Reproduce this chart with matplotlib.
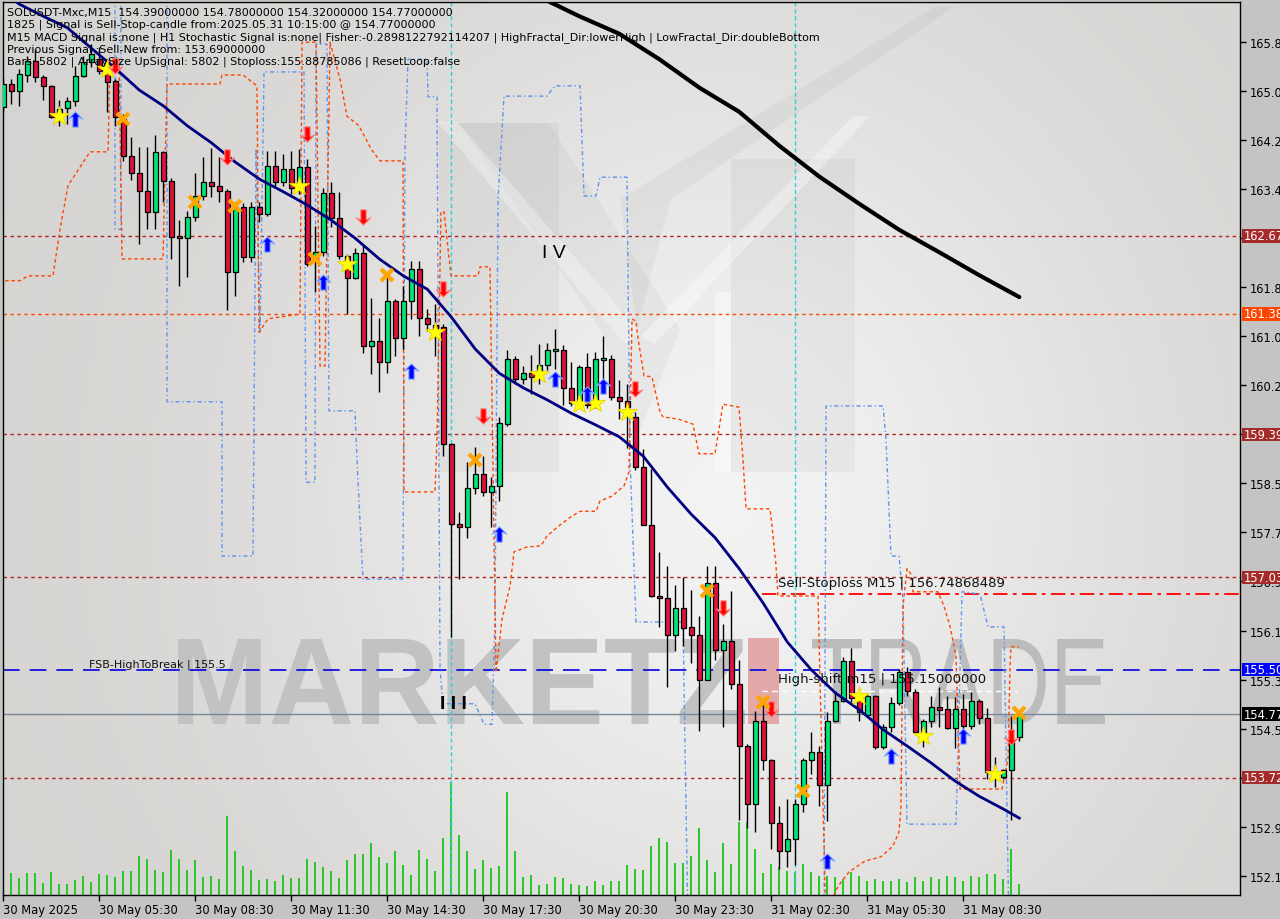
import numpy as np
import matplotlib
matplotlib.use("Agg")
import matplotlib.pyplot as plt
from matplotlib.path import Path
from matplotlib.patches import Rectangle, Polygon, PathPatch
from matplotlib.textpath import TextPath
from matplotlib.transforms import Affine2D, blended_transform_factory
from matplotlib.font_manager import FontProperties

plt.rcParams['font.family'] = ['DejaVu Sans']

# ---------------- data ----------------
opens = [164.80,165.18,165.06,165.33,165.56,165.30,165.15,164.64,164.78,164.90,
         165.31,165.54,165.59,165.48,165.23,164.60,163.99,163.71,163.41,163.06,
         164.06,163.58,162.65,162.63,162.98,163.33,163.56,163.49,163.41,162.07,
         163.15,162.32,163.15,163.03,163.83,163.56,163.78,163.45,163.81,162.32,
         162.40,163.38,162.97,162.34,161.97,162.39,160.85,160.93,160.59,161.60,
         160.98,161.60,162.12,161.31,161.20,161.17,159.23,157.91,157.86,158.50,
         158.73,158.44,158.54,159.56,160.64,160.31,160.40,160.40,160.54,160.77,
         160.79,160.16,159.91,160.50,159.88,160.62,160.64,160.01,159.94,159.68,
         158.85,157.89,156.72,156.69,156.08,156.52,156.21,156.08,155.33,156.94,
         155.83,155.98,155.27,154.24,153.28,154.65,154.01,152.97,152.51,152.70,
         153.28,154.01,154.14,153.60,154.65,154.99,155.65,155.04,154.75,155.07,
         154.23,154.55,154.95,155.46,155.13,154.47,154.65,154.88,154.85,154.54,
         154.85,154.57,154.99,154.70,153.81,153.73,153.85,154.39]
highs = [165.30,165.26,165.43,165.64,165.76,165.33,165.16,164.92,164.97,165.48,
         165.64,165.84,165.79,165.56,165.26,164.68,164.30,164.14,164.14,164.34,
         164.07,163.63,162.93,163.08,163.71,163.97,164.12,163.97,163.45,163.23,
         163.21,163.23,163.23,164.07,164.07,164.02,164.07,164.11,163.94,162.83,
         163.46,163.56,163.40,162.37,162.47,162.50,161.64,161.31,161.99,161.63,
         161.84,162.26,162.26,161.46,161.54,161.21,159.25,158.11,158.94,159.18,
         159.03,158.69,159.68,160.79,160.69,160.52,160.70,160.88,160.90,161.13,
         160.87,160.59,160.54,160.74,160.75,161.02,160.70,160.29,160.22,159.76,
         159.15,158.82,157.45,157.22,156.90,157.03,156.82,156.39,157.22,157.22,
         156.26,156.80,155.66,154.28,154.82,154.99,154.03,153.25,153.37,153.37,
         154.04,154.47,154.24,154.80,155.15,155.71,155.86,155.19,155.10,155.09,
         154.60,155.05,155.51,155.55,155.18,154.69,155.07,155.22,155.07,155.05,
         155.10,155.13,155.02,154.87,154.06,153.86,154.74,154.78]
lows = [164.72,164.85,164.82,165.21,165.21,164.92,164.62,164.49,164.52,164.82,
        165.30,165.46,165.35,164.72,164.49,163.91,163.59,162.54,162.78,162.78,
        163.23,162.29,161.84,161.99,162.92,163.26,163.31,163.23,161.45,161.68,
        162.24,162.24,162.90,163.00,163.49,163.49,163.36,163.36,162.17,161.74,
        162.34,162.82,162.29,161.38,161.96,160.74,160.39,160.09,160.40,160.69,
        160.80,161.30,161.01,161.10,160.69,159.03,156.04,157.00,157.68,158.41,
        158.37,157.86,158.29,159.53,160.22,160.22,160.06,160.22,160.45,160.47,
        159.88,159.86,159.88,159.83,159.83,160.17,159.96,159.64,159.17,158.80,
        157.89,156.70,156.21,155.22,155.81,155.89,155.61,154.49,155.33,155.66,
        154.56,155.18,153.02,152.89,152.82,153.84,152.54,152.21,152.24,152.27,
        153.15,153.78,153.25,153.00,154.64,154.97,154.97,154.65,154.74,154.19,
        154.19,154.47,154.92,155.07,154.44,154.23,154.56,154.56,154.52,154.21,
        154.52,154.52,154.60,153.70,153.56,153.70,153.02,154.32]
closes = [165.18,165.06,165.35,165.56,165.30,165.15,164.64,164.77,164.90,165.31,
          165.54,165.68,165.40,165.21,164.64,163.99,163.71,163.41,163.06,164.06,
          163.58,162.65,162.64,162.98,163.33,163.56,163.49,163.41,162.07,163.13,
          162.32,163.15,163.03,163.83,163.56,163.78,163.46,163.81,162.21,162.40,
          163.38,162.97,162.34,161.97,162.39,160.85,160.93,160.59,161.60,160.98,
          161.60,162.12,161.31,161.21,161.13,159.23,157.91,157.86,158.50,158.73,
          158.44,158.54,159.58,160.64,160.31,160.40,160.34,160.54,160.79,160.80,
          160.16,159.91,160.50,159.88,160.64,160.65,160.01,159.94,159.84,158.85,
          157.89,156.72,156.69,156.08,156.52,156.19,156.08,155.33,156.94,155.83,
          155.98,155.27,154.24,153.28,154.65,154.01,152.97,152.51,152.70,153.28,
          154.01,154.14,153.60,154.65,154.99,155.65,155.04,154.80,155.07,154.23,
          154.55,154.95,155.46,155.15,154.47,154.65,154.88,154.84,154.54,154.85,
          154.57,154.99,154.70,153.81,153.76,153.85,154.31,154.77]
volumes = [330,220,170,220,220,120,230,110,110,150,190,130,210,200,180,240,240,390,360,250,
           230,450,360,250,350,180,190,160,790,440,290,250,150,160,140,200,170,170,360,330,
           280,240,170,350,410,410,520,380,320,440,300,200,450,360,240,570,1130,600,440,260,
           350,270,290,1030,440,180,200,100,110,180,170,110,100,90,140,100,140,140,300,260,
           250,490,570,530,320,320,390,670,350,230,520,310,730,730,460,220,310,280,240,230,
           310,230,190,190,180,160,230,190,140,160,140,140,160,130,180,140,180,160,190,180,
           140,190,180,210,210,160,460,110]

ma_bars = [1, 2, 5, 8, 12, 14, 17, 20, 23, 26, 29, 32, 35, 38, 41, 44, 47, 50, 53, 56,
           59, 62, 65, 68, 71, 74, 77, 80, 83, 86, 89, 92, 95, 98, 101, 104, 107, 110,
           113, 116, 119, 122, 125, 127]
ma_vals = [166.60, 166.50, 166.30, 166.11, 165.66, 165.44, 165.08, 164.82, 164.49, 164.21,
           163.89, 163.61, 163.40, 163.18, 162.93, 162.63, 162.29, 162.01, 161.79, 161.33,
           160.80, 160.40, 160.16, 159.96, 159.74, 159.55, 159.35, 159.03, 158.52, 158.07,
           157.68, 157.17, 156.60, 155.96, 155.50, 155.12, 154.84, 154.51, 154.24, 153.96,
           153.66, 153.41, 153.20, 153.05]
slow_bars = [67, 72, 77, 82, 87, 92, 97, 102, 107, 112, 117, 122, 127]
slow_vals = [166.62, 166.30, 166.01, 165.59, 165.12, 164.72, 164.16, 163.65, 163.20,
             162.77, 162.40, 162.02, 161.66]

blue_bars = [13.96,13.96,14.71,14.71,20.46,20.46,27.34,27.34,31.21,31.59,32.09,32.59,37.59,
             37.84,38.96,39.09,40.46,40.71,43.96,44.34,44.96,49.96,50.21,50.59,52.96,53.09,
             54.21,54.59,54.96,58.96,60.09,61.09,61.46,61.84,62.59,67.96,68.96,72.09,72.59,
             74.09,74.59,77.96,78.34,79.09,84.96,85.59,102.59,102.84,109.96,110.34,110.96,
             111.96,112.46,112.96,119.09,119.84,122.09,123.09,125.09,125.71]
blue_vals = [166.75,162.78,162.78,166.75,166.75,159.93,159.93,157.38,157.38,164.11,161.08,
             165.38,165.38,158.60,158.60,165.84,165.84,159.78,159.78,158.60,157.00,157.00,
             164.11,165.59,165.59,164.97,164.97,155.51,154.94,154.94,154.60,154.60,156.34,
             163.28,164.98,164.98,165.15,165.15,163.33,163.33,163.64,163.64,158.98,156.29,
             156.29,151.22,151.22,159.86,159.86,159.31,157.38,157.38,156.67,152.95,152.95,
             156.79,156.75,156.21,156.21,151.22]
orange_bars = [-1.04,2.09,3.09,6.21,7.09,8.09,9.21,10.84,13.09,13.34,14.46,14.84,19.96,20.46,
               27.09,27.34,29.96,31.71,31.96,33.09,37.09,37.34,39.09,39.59,40.21,40.84,42.09,
               42.96,44.46,45.96,47.09,49.96,50.09,53.96,54.21,54.71,55.09,55.96,59.34,59.59,
               60.84,61.59,62.34,63.34,63.84,65.46,67.21,67.96,69.46,70.96,72.09,74.09,74.59,
               76.09,77.59,78.21,78.59,79.09,79.34,80.09,81.09,82.09,82.46,84.46,86.21,86.96,
               88.96,89.96,91.96,92.46,92.84,95.84,96.09,96.59,96.84,101.84,102.84,103.96,
               104.71,105.71,107.71,109.71,111.21,111.96,112.21,112.46,112.96,113.46,113.71,
               116.84,117.59,118.34,119.09,119.59,124.84,125.59,125.84,125.96,126.96]
orange_vals = [161.93,161.93,162.01,162.01,162.78,163.50,163.73,164.06,164.06,165.59,165.59,
               162.29,162.29,165.18,165.18,165.33,165.33,165.15,161.08,161.30,161.38,165.87,
               165.87,160.52,160.52,165.87,165.26,164.65,164.49,164.11,163.91,163.91,158.44,
               158.44,159.31,163.07,163.07,162.01,162.01,162.16,162.16,155.46,156.34,156.88,
               157.45,157.53,157.55,157.71,157.88,158.03,158.12,158.12,158.29,158.37,158.54,
               158.77,161.30,161.26,160.97,160.36,160.34,159.76,159.68,159.64,159.56,159.07,
               159.07,159.89,159.84,158.98,158.16,158.16,157.88,157.22,156.72,156.72,151.22,
               151.83,151.99,152.16,152.34,152.41,152.59,152.82,153.25,156.55,157.17,157.08,
               156.79,156.79,156.55,156.22,155.73,153.53,153.53,154.03,155.56,155.88,155.88]

star_bars = [7, 13, 37, 43, 54, 67, 72, 74, 78, 107, 115, 124]
star_vals = [164.65, 165.43, 163.50, 162.20, 161.08, 160.39, 159.89, 159.91, 159.76, 155.07, 154.41, 153.78]
up_bars = [9, 33, 40, 51, 62, 69, 73, 75, 103, 111, 120]
up_vals = [164.60, 162.54, 161.91, 160.44, 157.74, 160.31, 160.06, 160.19, 152.34, 154.08, 154.41]
dn_bars = [14, 28, 38, 45, 55, 60, 79, 90, 96, 126]
dn_vals = [165.48, 163.97, 164.35, 162.98, 161.79, 159.70, 160.14, 156.52, 154.85, 154.39]
x_bars = [15, 24, 29, 39, 48, 59, 88, 95, 100, 127]
x_vals = [164.60, 163.23, 163.16, 162.29, 162.03, 158.97, 156.80, 154.97, 153.50, 154.79]

level_vals = [162.67, 161.38, 159.39, 157.03, 153.72]
level_cols = ['#B22222', '#FF4500', '#B22222', '#B22222', '#B22222']
fsb_level = 155.5
bid_price = 154.77
sell_stop = 156.74868489
high_shift = 155.15

ytick_vals = [165.87, 165.06, 164.25, 163.44, 162.63, 161.82, 161.01, 160.20, 159.39,
              158.58, 157.77, 156.96, 156.15, 155.34, 154.53, 153.72, 152.91, 152.10]
ytick_hidden = [162.63, 159.39, 153.72]   # covered by the price tags in the reference
xtick_bars = [0, 12, 24, 36, 48, 60, 72, 84, 96, 108, 120]
xtick_labels = ["30 May 2025", "30 May 05:30", "30 May 08:30", "30 May 11:30", "30 May 14:30",
                "30 May 17:30", "30 May 20:30", "30 May 23:30", "31 May 02:30", "31 May 05:30",
                "31 May 08:30"]
vline_bars = [56, 99]

tag_vals = [162.67, 161.38, 159.39, 157.03, 155.50, 154.77, 153.72]
tag_cols = ['#A52A2A', '#FF4500', '#A52A2A', '#A52A2A', '#0000FF', '#000000', '#A52A2A']

header = ["SOLUSDT-Mxc,M15  154.39000000 154.78000000 154.32000000 154.77000000",
          "1825 | Signal is Sell-Stop-candle from:2025.05.31 10:15:00 @ 154.77000000",
          "M15 MACD Signal is:none | H1 Stochastic Signal is:none| Fisher:-0.2898122792114207 | HighFractal_Dir:lowerHigh | LowFractal_Dir:doubleBottom",
          "Previous Signal :Sell-New from: 153.69000000",
          "Bars: 5802 | ArraySize UpSignal: 5802 | Stoploss:155.88785086 | ResetLoop:false"]

# ---------------- figure layout ----------------
W, H = 1280, 920
L, R, T, B = 3, 1240, 2.7, 896
fig = plt.figure(figsize=(W / 100, H / 100), dpi=100)
fig.patch.set_facecolor('#c4c4c4')

bg = fig.add_axes([0, 0, 1, 1], zorder=0)
bg.axis('off')
gx = np.linspace(L, R, 240)
gy = np.linspace(T, B, 180)
GX, GY = np.meshgrid(gx, gy)
glow = np.exp(-(((GX - 720) / 430) ** 2 + ((GY - 500) / 470) ** 2))
c0 = np.array([0.835, 0.830, 0.820])
c1 = np.array([0.950, 0.950, 0.950])
img = c0[None, None, :] + (c1 - c0)[None, None, :] * glow[..., None]
bg.imshow(img, extent=(L, R, B, T), aspect='auto', interpolation='bilinear', zorder=0)
bg.set_xlim(0, W)
bg.set_ylim(H, 0)

# faint logo behind the chart
for pts, fc, a in [
        ([(439, 124), (559, 124), (559, 473), (439, 473)], 'black', 0.035),
        ([(731, 160), (855, 160), (855, 473), (731, 473)], 'black', 0.035),
        ([(459, 124), (549, 124), (680, 330), (637, 440), (600, 330)], 'black', 0.03),
        ([(936, 7), (955, 7), (671, 200), (637, 330), (620, 200)], 'black', 0.035),
        ([(853, 117), (870, 117), (655, 345), (640, 338)], 'white', 0.35),
        ([(715, 293), (731, 293), (731, 473), (715, 473)], 'white', 0.4),
        ([(437, 123), (457, 123), (640, 333), (625, 345)], 'white', 0.3)]:
    bg.add_patch(Polygon(pts, closed=True, facecolor=fc, edgecolor='none', alpha=a, zorder=1))


def word(txt, box, fam, weight, color):
    tp = TextPath((0, 0), txt, size=100, prop=FontProperties(family=fam, weight=weight))
    ext = tp.get_extents()
    x0, y0, x1, y1 = box
    tr = (Affine2D().translate(-ext.x0, -ext.y0)
          .scale((x1 - x0) / ext.width, -(y1 - y0) / ext.height)
          .translate(x0, y1))
    bg.add_patch(PathPatch(tr.transform_path(tp), facecolor=color, edgecolor='none', zorder=2))


word("MARKETZ", (178, 640, 745, 725), 'Liberation Sans', 'bold', '#c2c2c2')
bg.add_patch(Rectangle((748, 639), 31, 86, facecolor='#e3a9a9', edgecolor='none', zorder=2))
word("TRADE", (812, 640, 1105, 725), 'Liberation Sans', 'normal', '#bcbcbc')

pos = [L / W, 1 - B / H, (R - L) / W, (B - T) / H]
ax = fig.add_axes(pos, zorder=2)
ax.set_facecolor('none')
axv = fig.add_axes(pos, zorder=1, sharex=ax)
axv.set_facecolor('none')
axv.axis('off')

xlo, xhi = (L - 3.3) / 8, (R - 3.3) / 8
ylo, yhi = 166.585 - B * 0.016524, 166.585 - T * 0.016524

# volumes
nb = len(opens)
axv.vlines(range(nb), 0, volumes, color='#2BC82B', lw=1.1, snap=True, antialiased=False)
axv.set_ylim(0, (B - T) * 10)

# horizontal levels
for v, c in zip(level_vals, level_cols):
    ax.axhline(v, color=c, lw=1, dashes=(2.5, 2.5), zorder=1)
ax.axhline(fsb_level, color='#0000DD', lw=1.2, dashes=(10, 6), zorder=1)
ax.axhline(bid_price, color='#778899', lw=1, zorder=1)
ax.plot([94.84, xhi], [sell_stop, sell_stop], color='#FF0000', lw=1.3, dashes=(8, 3, 2, 3), zorder=1)
ax.plot([94.84, 126.7], [high_shift, high_shift], color='white', lw=1, dashes=(4, 3), zorder=1)
for vb in vline_bars:
    ax.axvline(vb, color='#2ED0DC', lw=1, dashes=(3, 2), zorder=1)

# step lines
ax.plot(blue_bars, blue_vals, color='#5C93F0', lw=1, dashes=(3, 2, 1, 2), zorder=2)
ax.plot(orange_bars, orange_vals, color='#FF4500', lw=1, dashes=(2.5, 2), zorder=2)

# moving averages
ax.plot(slow_bars, slow_vals, color='black', lw=3, zorder=3, solid_capstyle='round')
ax.plot(ma_bars, ma_vals, color='#000080', lw=2, zorder=6)

# candles
xs = np.arange(nb)
o = np.array(opens); c = np.array(closes)
cols = ['#00E676' if cc >= oo else '#DC143C' for oo, cc in zip(o, c)]
ax.vlines(xs, lows, highs, color='black', lw=1, zorder=4)
bodies = np.maximum(np.abs(c - o), 0.03)
ax.bar(xs, bodies, bottom=np.minimum(o, c), width=0.64, color=cols, edgecolor='black',
       linewidth=0.9, zorder=5)

# signal markers
up_path = Path([(0, 1), (0.95, 0.05), (0.35, 0.3), (0.35, -1), (-0.35, -1), (-0.35, 0.3),
                (-0.95, 0.05), (0, 1)],
               [Path.MOVETO] + [Path.LINETO] * 6 + [Path.CLOSEPOLY])
dn_path = Path([(x, -y) for x, y in up_path.vertices], up_path.codes)
ax.plot(star_bars, star_vals, ls='none', marker='*', ms=15, mfc='#FFFF00', mec='#E8D200',
        mew=0.6, zorder=7)
ax.plot(up_bars, up_vals, ls='none', marker=up_path, ms=11, mfc='#0000FF', mec='#7FA8FF',
        mew=0.8, zorder=7)
ax.plot(dn_bars, dn_vals, ls='none', marker=dn_path, ms=11, mfc='#FF0000', mec='#FF8080',
        mew=0.8, zorder=7)
ax.plot(x_bars, x_vals, ls='none', marker='x', ms=8, mec='#FFA500', mew=3, zorder=7)

# text objects
ax.text(96.8, 156.95, "Sell-Stoploss M15 | 156.74868489", fontsize=9.5, color='#111111',
        va='center', ha='left', zorder=8)
ax.text(96.8, 155.35, "High-shift m15 | 155.15000000", fontsize=9.5, color='#111111',
        va='center', ha='left', zorder=8)
ax.text(10.7, 155.60, "FSB-HighToBreak | 155.5", fontsize=8, color='#111111',
        va='center', ha='left', zorder=8)
ax.text(67.4, 162.39, "I V", fontsize=14, family='Liberation Sans', color='black',
        va='center', ha='left', zorder=8)
ax.text(54.6, 154.95, "I I I", fontsize=14, family='Liberation Sans', weight='bold',
        color='black', va='center', ha='left', zorder=8)

# axes formatting
ax.set_xlim(xlo, xhi)
ax.set_ylim(ylo, yhi)
ax.yaxis.tick_right()
ax.set_yticks(ytick_vals)
ax.set_yticklabels(["" if v in ytick_hidden else f"{v:.2f}" for v in ytick_vals])
ax.set_xticks(xtick_bars)
ax.set_xticklabels(xtick_labels, ha='left')
ax.tick_params(axis='y', direction='out', length=4, width=1, pad=3, labelsize=8.3, colors='black')
ax.tick_params(axis='x', direction='out', length=4, width=1, pad=2, labelsize=8.3, colors='black')
for s in ax.spines.values():
    s.set_color('black')
    s.set_linewidth(1)

# price tags on right axis
tr = blended_transform_factory(ax.transAxes, ax.transData)
bx = (1242 - L) / (R - L)
for v, col in zip(tag_vals, tag_cols):
    ax.add_patch(Rectangle((bx, v - 0.11), 0.05, 0.22, transform=tr, facecolor=col,
                           edgecolor='none', clip_on=False, zorder=9))
    ax.text(bx + 0.0015, v, f"{v:.2f}", transform=tr, color='white', fontsize=8.3,
            va='center', ha='left', clip_on=False, zorder=10)

# header lines
for line, yy in zip(header, [12.7, 25, 37.7, 50, 61.7]):
    fig.text(7 / W, 1 - yy / H, line, fontsize=8, color='black', va='center', ha='left', zorder=5)

fig.savefig("out.png", dpi=100, facecolor=fig.get_facecolor())
